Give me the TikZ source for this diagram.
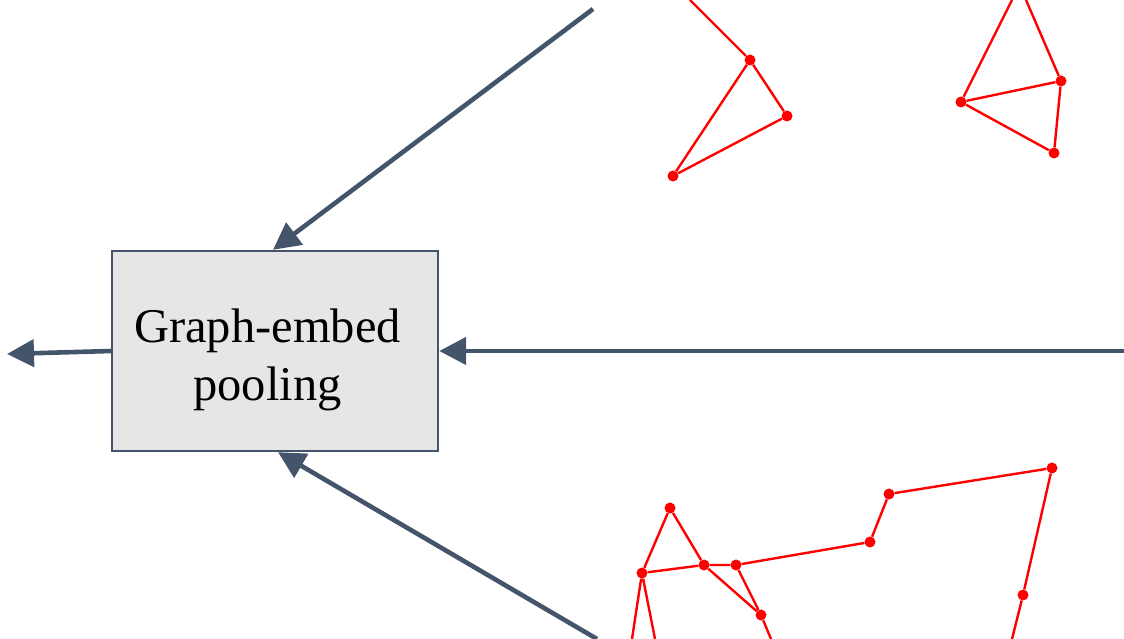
\documentclass[tikz,border=0pt]{standalone}
\usepackage{tikz}
\usepackage{fontspec}
\setmainfont{Liberation Serif}
\usetikzlibrary{positioning,arrows.meta}
\definecolor{slatecolor}{RGB}{68,84,106}
\definecolor{boxgray}{RGB}{230,230,230}

\begin{document}
\begin{tikzpicture}[x=1pt,y=1pt,
    arr/.style={draw=slatecolor, line width=4.6pt, -{Triangle[length=27pt,width=27pt]}},
    vtx/.style={circle, fill=red, inner sep=0pt, minimum size=11pt},
    gedge/.style={draw=red, line width=2.4pt}]
    \useasboundingbox (0,0) rectangle (1124,639);

    % Pooling box
    \node[draw=slatecolor, line width=2.4pt, fill=boxgray, minimum width=326pt, minimum height=200pt] (pool) at (275,288) {};
    \node[align=center, font=\fontsize{48.5}{58}\selectfont] (poollabel) at (267.5,279) {Graph-embed\\pooling};

    % Top left graph
    \node[vtx] (a1) at (750,579) {};
    \node[vtx] (a2) at (787,523) {};
    \node[vtx] (a3) at (673,463) {};
    \coordinate (a0) at (690,639);
    \draw[gedge] (a0) -- (a1) -- (a2) -- (a3) -- (a1);

    % Top right graph
    \node[vtx] (b1) at (961,537) {};
    \node[vtx] (b2) at (1061,558) {};
    \node[vtx] (b3) at (1054,486) {};
    \coordinate (b0) at (1012,639);
    \coordinate (b4) at (1026,639);
    \draw[gedge] (b0) -- (b1) -- (b2) -- (b3) -- (b1);
    \draw[gedge] (b4) -- (b2);

    % Bottom graph
    \node[vtx] (c1) at (670,131) {};
    \node[vtx] (c2) at (642,66) {};
    \node[vtx] (c3) at (704,74) {};
    \node[vtx] (c4) at (736,74) {};
    \node[vtx] (c5) at (761,24) {};
    \node[vtx] (c6) at (870,97) {};
    \node[vtx] (c7) at (889,145) {};
    \node[vtx] (c8) at (1052,171) {};
    \node[vtx] (c9) at (1023,44) {};
    \coordinate (d1) at (632,0);
    \coordinate (d2) at (655,0);
    \coordinate (d3) at (771,0);
    \coordinate (d4) at (1012,0);
    \draw[gedge] (c2) -- (c1) -- (c3) -- (c2);
    \draw[gedge] (c3) -- (c4) -- (c5) -- (c3);
    \draw[gedge] (c4) -- (c6) -- (c7) -- (c8) -- (c9) -- (d4);
    \draw[gedge] (d1) -- (c2) -- (d2);
    \draw[gedge] (c5) -- (d3);

    % Arrows into the pooling box
    \coordinate (in1) at (593,630);
    \coordinate (in2) at (1124,288);
    \coordinate (in3) at (597,0);
    \coordinate (out) at (7,285);
    \draw[arr] (in1) -- ([xshift=-2pt]pool.north);
    \draw[arr] (in2) -- (pool.east);
    \draw[arr] (in3) -- ([xshift=3pt]pool.south);
    \draw[arr] (pool.west) -- (out);
\end{tikzpicture}
\end{document}
